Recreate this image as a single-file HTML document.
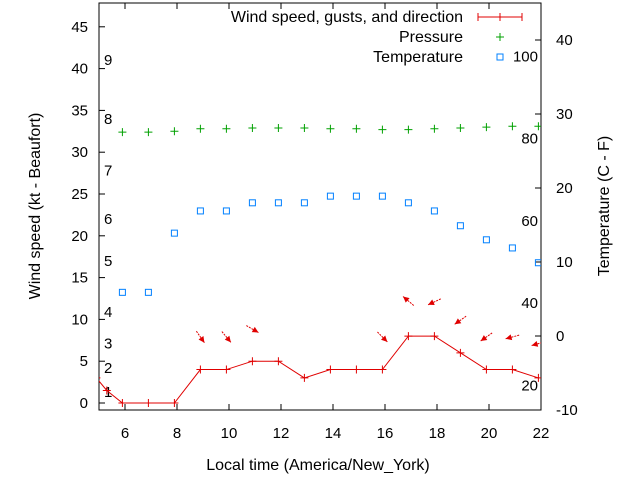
<!DOCTYPE html>
<html><head><meta charset="utf-8"><style>
body{margin:0;background:#fff;font-family:"Liberation Sans",sans-serif}
svg text{font-family:"Liberation Sans",sans-serif;font-size:15px;fill:#000}
svg text.big{font-size:16px}
</style></head><body>
<svg width="640" height="480" id="c"></svg>
<script>
const hours=[4.9,5.3,5.9,6.9,7.9,8.9,9.9,10.9,11.9,12.9,13.9,14.9,15.9,16.9,17.9,18.9,19.9,20.9,21.9];
const wind=[3,1.5,0,0,0,4,4,5,5,3,4,4,4,8,8,6,4,4,3];
const pHours=[5.9,6.9,7.9,8.9,9.9,10.9,11.9,12.9,13.9,14.9,15.9,16.9,17.9,18.9,19.9,20.9,21.9];
const pressure=[32.4,32.4,32.5,32.8,32.8,32.9,32.9,32.9,32.8,32.8,32.7,32.7,32.8,32.9,33.0,33.1,33.1];
const temp=[5.9,5.9,13.9,16.9,16.9,18,18,18,18.9,18.9,18.9,18,16.9,14.9,13,11.9,9.9];
const arrowHours=[8.9,9.9,10.9,15.9,16.9,17.9,18.9,19.9,20.9,21.9];
const arrowLevel=[7.9,7.9,8.85,7.9,12.2,12.1,9.9,7.9,7.9,7.1];
const arrowDir=[55,50,30,45,-140,155,145,145,165,165];
const xTicks=[6,8,10,12,14,16,18,20,22];
const yTicks=[0,5,10,15,20,25,30,35,40,45];
const cTicks=[-10,0,10,20,30,40];
const fTicks=[20,40,60,80,100];
const bft=[1,2,3,4,5,6,7,8,9];
const bftKt=[1.3,4.2,7.1,10.9,17,22,27.8,34,41];
const L=99,R=541,T=3,B=410;
const X=h=>L+(h-5)*26;
const Y=v=>403-v*8.36;
const YC=c=>336-c*7.4;
const YF=f=>YC((f-32)*5/9);
const s=document.getElementById('c');const NS='http://www.w3.org/2000/svg';
function el(t,a,p){const e=document.createElementNS(NS,t);for(const k in a)e.setAttribute(k,a[k]);(p||s).appendChild(e);return e;}
function tx(x,y,str,anchor,name,cls){const e=el('text',{x:x,y:y,'text-anchor':anchor||'middle'});if(cls)e.setAttribute('class',cls);e.textContent=str;return e;}
const cp=el('clipPath',{id:'cl'});el('rect',{x:L,y:T,width:R-L,height:B-T},cp);
const frame=el('rect',{x:L,y:T,width:R-L,height:B-T,fill:'none',stroke:'#000','stroke-width':1});

xTicks.forEach(h=>{el('line',{x1:X(h),x2:X(h),y1:B,y2:B-6,stroke:'#000'});el('line',{x1:X(h),x2:X(h),y1:T,y2:T+6,stroke:'#000'});tx(X(h),438,String(h),'middle','x-tick-label');});
yTicks.forEach(v=>{el('line',{x1:L,x2:L+6,y1:Y(v),y2:Y(v),stroke:'#000'});tx(88,Y(v)+5,String(v),'end','y-tick-label');});
cTicks.forEach(c=>{el('line',{x1:R,x2:R-6,y1:YC(c),y2:YC(c),stroke:'#000'});tx(556,YC(c)+5,String(c),'start','temp-c-tick-label');});
fTicks.forEach(f=>{tx(538,YF(f)+5,String(f),'end','temp-f-label');});
bft.forEach((b,i)=>{tx(104,Y(bftKt[i])+5,String(b),'start','beaufort-label');});
const g=el('g',{'clip-path':'url(#cl)'});
const pts=hours.map((h,i)=>X(h)+','+Y(wind[i])).join(' ');
const wl=el('polyline',{points:pts,fill:'none',stroke:'#e00000','stroke-width':1},g);

hours.forEach((h,i)=>{const x=X(h),y=Y(wind[i]);el('path',{d:`M${x-4} ${y}H${x+4}M${x} ${y-4}V${y+4}`,stroke:'#e00000'},g);});
pHours.forEach((h,i)=>{const x=X(h),y=Y(pressure[i]);const p=el('path',{d:`M${x-4} ${y}H${x+4}M${x} ${y-4}V${y+4}`,stroke:'#00a000'},g);});
pHours.forEach((h,i)=>{const r=el('rect',{x:X(h)-3,y:YC(temp[i])-3,width:6,height:6,fill:'none',stroke:'#0080ff'},g);});
arrowHours.forEach((h,i)=>{const cx=X(h),cy=Y(arrowLevel[i]);const a=arrowDir[i]*Math.PI/180;const dx=Math.cos(a),dy=Math.sin(a);
const x1=cx-dx*7,y1=cy-dy*7,x2=cx+dx*7,y2=cy+dy*7;
const gg=el('g',{},g);
el('line',{x1:x1,y1:y1,x2:x2,y2:y2,stroke:'#e00000','stroke-dasharray':'2,1'},gg);
const px=-dy,py=dx;el('polygon',{points:`${x2},${y2} ${x2-dx*6+px*3},${y2-dy*6+py*3} ${x2-dx*6-px*3},${y2-dy*6-py*3}`,fill:'#e00000'},gg);});
tx(463,22,'Wind speed, gusts, and direction','end','legend-wind-label','big');
const lg=el('path',{d:'M478 17H522M478 13V21M522 13V21M500 13V21',stroke:'#e00000'});
tx(463,42,'Pressure','end','legend-pressure-label','big');
el('path',{d:'M496 37H504M500 33V41',stroke:'#00a000'});
tx(463,62,'Temperature','end','legend-temperature-label','big');
el('rect',{x:497,y:54,width:6,height:6,fill:'none',stroke:'#0080ff'});
const yl=tx(40,206,'Wind speed (kt - Beaufort)','middle','y-axis-title','big');yl.setAttribute('transform','rotate(-90 40 206)');
const yr=tx(609,206,'Temperature (C - F)','middle','y2-axis-title','big');yr.setAttribute('transform','rotate(-90 609 206)');
tx(318,470,'Local time (America/New_York)','middle','x-axis-title','big');
</script>
</body></html>
